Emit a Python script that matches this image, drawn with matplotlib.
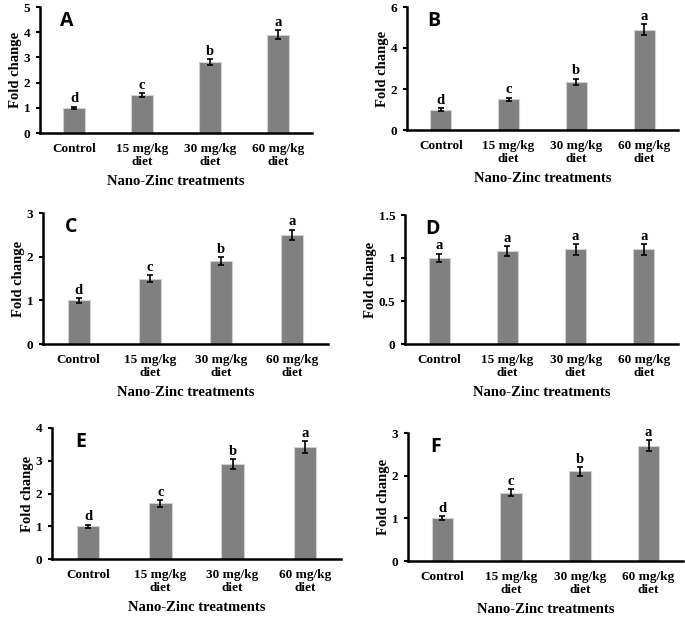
import matplotlib.pyplot as plt
from matplotlib.ticker import FuncFormatter

categories = ["Control", "15 mg/kg\ndiet", "30 mg/kg\ndiet", "60 mg/kg\ndiet"]
panel_names = ["A", "B", "C", "D", "E", "F"]

vals_a = [1.0, 1.5, 2.8, 3.9]
errs_a = [0.05, 0.07, 0.12, 0.18]
vals_b = [1.0, 1.5, 2.35, 4.9]
errs_b = [0.06, 0.08, 0.15, 0.25]
vals_c = [1.0, 1.5, 1.9, 2.5]
errs_c = [0.05, 0.08, 0.09, 0.12]
vals_d = [1.0, 1.08, 1.1, 1.1]
errs_d = [0.05, 0.06, 0.06, 0.06]
vals_e = [1.0, 1.7, 2.9, 3.42]
errs_e = [0.05, 0.1, 0.14, 0.18]
vals_f = [1.0, 1.6, 2.1, 2.7]
errs_f = [0.05, 0.08, 0.1, 0.13]

letters_abcd = ["d", "c", "b", "a"]
letters_same = ["a", "a", "a", "a"]

y_max = [5, 6, 3, 1.5, 4, 3]
y_step = [1, 2, 1, 0.5, 1, 1]

# axes boxes in pixels: left, right, top, bottom
boxes = [
    (40, 312, 7, 133),
    (407, 678, 7, 130),
    (43, 328, 213, 344),
    (405, 678, 215, 344),
    (52, 341, 428, 559),
    (408, 683, 433, 561),
]

W, H = 685, 618
serif = "Liberation Serif"

fig = plt.figure(figsize=(W / 100, H / 100), dpi=100)

panels = [
    (vals_a, errs_a, letters_abcd),
    (vals_b, errs_b, letters_abcd),
    (vals_c, errs_c, letters_abcd),
    (vals_d, errs_d, letters_same),
    (vals_e, errs_e, letters_abcd),
    (vals_f, errs_f, letters_abcd),
]

fmt = FuncFormatter(lambda v, p: f"{v:g}")

for i, (vals, errs, lets) in enumerate(panels):
    l, r, t, b = boxes[i]
    ax = fig.add_axes([l / W, 1 - b / H, (r - l) / W, (b - t) / H])
    x = range(len(categories))
    ax.bar(x, vals, width=0.31, color="#808080", edgecolor="#d0d0d0", linewidth=0.8, zorder=2)
    ax.errorbar(x, vals, yerr=errs, fmt="none", ecolor="black", elinewidth=1.2,
                capsize=2.5, capthick=1.2, zorder=3)
    for xi, v, e, lt in zip(x, vals, errs, lets):
        ax.annotate(lt, (xi, v + e), xytext=(0, 1), textcoords="offset points",
                    ha="center", va="bottom", fontsize=10.5, fontweight="bold",
                    family=serif)

    ax.set_xlim(-0.5, 3.5)
    ax.set_ylim(0, y_max[i])
    ticks = [k * y_step[i] for k in range(int(round(y_max[i] / y_step[i])) + 1)]
    ax.set_yticks(ticks)
    ax.yaxis.set_major_formatter(fmt)
    ax.set_xticks(list(x))
    ax.set_xticklabels(categories)

    for s in ["top", "right"]:
        ax.spines[s].set_visible(False)
    ax.spines["left"].set_linewidth(1.8)
    ax.spines["bottom"].set_linewidth(1.8)
    ax.tick_params(axis="x", length=0, pad=7)
    ax.tick_params(axis="y", length=3, width=1.5, pad=4)
    for lab in ax.get_xticklabels() + ax.get_yticklabels():
        lab.set_family(serif)
        lab.set_fontweight("bold")
        lab.set_fontsize(9.5)
        lab.set_linespacing(1.15)

    ax.set_ylabel("Fold change", family=serif, fontweight="bold", fontsize=10.5, labelpad=1)
    ax.set_xlabel("Nano-Zinc treatments", family=serif, fontweight="bold", fontsize=10.5, labelpad=5)

    ax.text(0.1, 0.97, panel_names[i], transform=ax.transAxes, ha="center", va="top",
            fontsize=14, fontweight="bold", family="Open Sans")

fig.savefig("out.png", dpi=100)
